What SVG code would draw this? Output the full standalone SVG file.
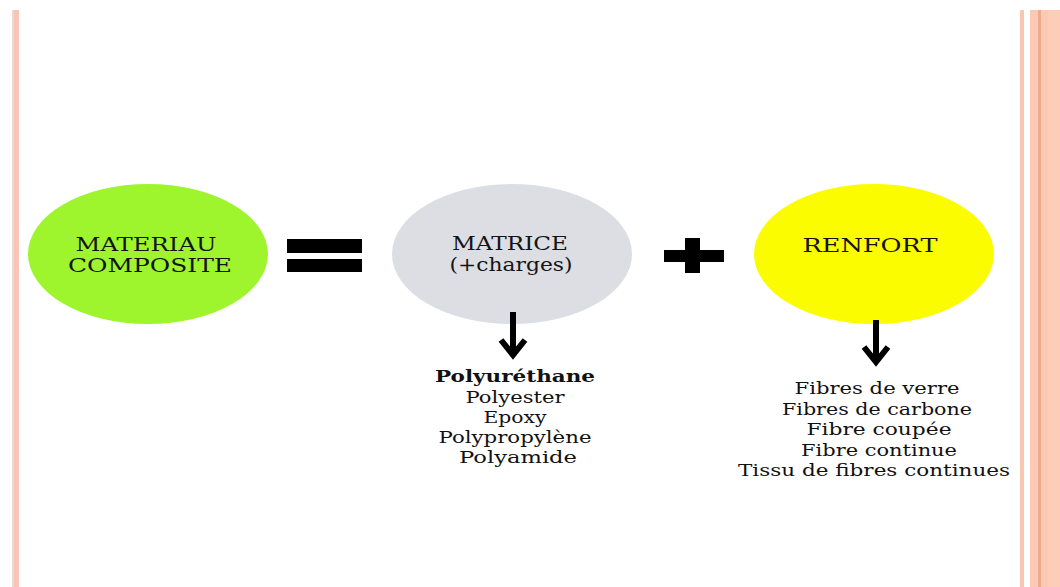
<svg xmlns="http://www.w3.org/2000/svg" width="1060" height="587" viewBox="0 0 1060 587">
  <style>
    .h { font-family: "DejaVu Serif", "Liberation Serif", serif; font-size: 19px; fill: #141414; text-anchor: middle; }
    .s { font-size: 18px; }
    .l { font-family: "DejaVu Serif", "Liberation Serif", serif; font-size: 16px; fill: #111111; text-anchor: middle; }
    .b { font-weight: bold; }
    .arr { fill: none; stroke: #000; stroke-width: 6; }
  </style>
  <rect x="0" y="0" width="1060" height="587" fill="#ffffff"/>
  <g id="borders">
    <rect x="12" y="10" width="2" height="577" fill="#eadccb"/>
    <rect x="14" y="10" width="5" height="577" fill="#fbc4b8"/>
    <rect x="1020" y="10" width="4" height="577" fill="#f6c8b4"/>
    <rect x="1030" y="10" width="30" height="577" fill="#fcc9b4"/>
    <rect x="1038" y="10" width="3" height="577" fill="#eeab8c"/>
    <rect x="1048" y="10" width="12" height="577" fill="#fdcdb8"/>
  </g>
  <g id="materiau">
    <ellipse cx="148" cy="254" rx="120" ry="70" fill="#9ef52e"/>
    <text class="h" x="146" y="251" textLength="141" lengthAdjust="spacingAndGlyphs">MATERIAU</text>
    <text class="h" x="150" y="272" textLength="164" lengthAdjust="spacingAndGlyphs">COMPOSITE</text>
  </g>
  <g id="egal">
    <rect x="287" y="239" width="75" height="14" fill="#000"/>
    <rect x="287" y="259" width="75" height="13" fill="#000"/>
  </g>
  <g id="matrice">
    <ellipse cx="512" cy="254" rx="120" ry="70" fill="#dcdee3"/>
    <text class="h s" x="510" y="250" textLength="116" lengthAdjust="spacingAndGlyphs">MATRICE</text>
    <text class="h s" x="511" y="271" textLength="123" lengthAdjust="spacingAndGlyphs">(+charges)</text>
  </g>
  <g id="plus">
    <rect x="685" y="238" width="15" height="35" fill="#000"/>
    <rect x="664" y="250" width="60" height="12" fill="#000"/>
  </g>
  <g id="renfort">
    <ellipse cx="874" cy="254" rx="120" ry="70" fill="#fcfc00"/>
    <text class="h" x="870" y="252" textLength="135" lengthAdjust="spacingAndGlyphs">RENFORT</text>
  </g>
  <g id="connectors">
    <path class="arr" d="M513,312 V354"/>
    <polyline class="arr" points="501,340 513,355 525,340"/>
    <path class="arr" d="M876,320 V361"/>
    <polyline class="arr" points="864,347 876,362 888,347"/>
  </g>
  <g id="liste-matrice">
    <text class="l b" x="515" y="382" textLength="160" lengthAdjust="spacingAndGlyphs">Polyuréthane</text>
    <text class="l" x="515" y="403" textLength="99" lengthAdjust="spacingAndGlyphs">Polyester</text>
    <text class="l" x="515" y="423" textLength="63" lengthAdjust="spacingAndGlyphs">Epoxy</text>
    <text class="l" x="515" y="443" textLength="153" lengthAdjust="spacingAndGlyphs">Polypropylène</text>
    <text class="l" x="518" y="463" textLength="118" lengthAdjust="spacingAndGlyphs">Polyamide</text>
  </g>
  <g id="liste-renfort">
    <text class="l" x="877" y="394" textLength="165" lengthAdjust="spacingAndGlyphs">Fibres de verre</text>
    <text class="l" x="877" y="415" textLength="190" lengthAdjust="spacingAndGlyphs">Fibres de carbone</text>
    <text class="l" x="879" y="435" textLength="145" lengthAdjust="spacingAndGlyphs">Fibre coupée</text>
    <text class="l" x="879" y="456" textLength="156" lengthAdjust="spacingAndGlyphs">Fibre continue</text>
    <text class="l" x="874" y="476" textLength="272" lengthAdjust="spacingAndGlyphs">Tissu de fibres continues</text>
  </g>
</svg>
